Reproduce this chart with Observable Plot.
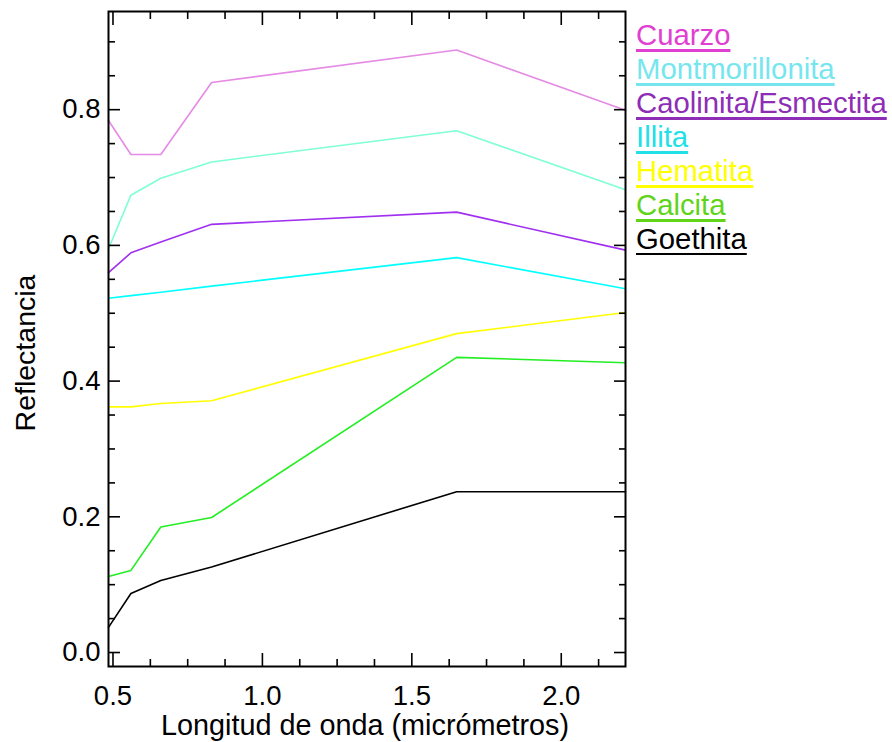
<!DOCTYPE html>
<html>
<head>
<meta charset="utf-8">
<script src="https://cdn.jsdelivr.net/npm/d3@7"></script>
<script src="https://cdn.jsdelivr.net/npm/@observablehq/plot@0.6"></script>
<style>
  html, body { margin: 0; padding: 0; background: #fff; }
  #wrap { position: relative; width: 892px; height: 742px; font-family: "Liberation Sans", Arial, sans-serif; }
  #legend { position: absolute; left: 636px; top: 18px; font-size: 29.3px; line-height: 34px; white-space: nowrap; }
  #legend div { text-decoration: underline; text-decoration-thickness: 3px; text-underline-offset: 4px; text-decoration-skip-ink: none; }
</style>
</head>
<body>
<div id="wrap"><div id="chart"></div><div id="legend"></div></div>
<script>
// Wavelengths (micrometres) of the sampled bands
const bands = [0.485, 0.56, 0.66, 0.83, 1.65, 2.215];

// Reflectance values per mineral
const cuarzo          = [0.784, 0.734, 0.734, 0.840, 0.888, 0.799];
const montmorillonita = [0.595, 0.674, 0.699, 0.723, 0.769, 0.682];
const caolinita       = [0.560, 0.589, 0.605, 0.631, 0.649, 0.593];
const illita          = [0.522, 0.526, 0.531, 0.540, 0.582, 0.536];
const hematita        = [0.362, 0.362, 0.367, 0.371, 0.470, 0.501];
const calcita         = [0.112, 0.121, 0.185, 0.199, 0.435, 0.427];
const goethita        = [0.037, 0.087, 0.106, 0.126, 0.237, 0.237];

const names       = ["Cuarzo", "Montmorillonita", "Caolinita/Esmectita", "Illita", "Hematita", "Calcita", "Goethita"];
const seriesVals  = [cuarzo, montmorillonita, caolinita, illita, hematita, calcita, goethita];
const lineColors  = ["#e58ae5", "#7fffd4", "#a030f0", "#00ffff", "#ffff00", "#22ee22", "#000000"];
const legendColors= ["#e03fd2", "#76e6ee", "#8e2db5", "#22dfe8", "#ffff00", "#5fd419", "#000000"];

// Axis ticks
const xMajor = [0.5, 1.0, 1.5, 2.0];
const xMinor = [0.625, 0.75, 0.875, 1.125, 1.25, 1.375, 1.625, 1.75, 1.875, 2.125];
const yMajor = [0.0, 0.2, 0.4, 0.6, 0.8];
const yMinor = [0.05, 0.1, 0.15, 0.25, 0.3, 0.35, 0.45, 0.5, 0.55, 0.65, 0.7, 0.75, 0.85, 0.9];

const xLabel = "Longitud de onda (micrómetros)";
const yLabel = "Reflectancia";

const rows = [];
names.forEach((n, k) => bands.forEach((b, i) => rows.push({mineral: n, wl: b, r: seriesVals[k][i]})));

const tickStroke = {stroke: "black", strokeWidth: 1.6};

const chart = Plot.plot({
  width: 892,
  height: 742,
  marginLeft: 108,
  marginRight: 267,
  marginTop: 11,
  marginBottom: 76,
  style: {fontFamily: "'Liberation Sans', Arial, sans-serif", fontSize: "27px", background: "white", color: "black"},
  x: {domain: [0.485, 2.215], axis: null},
  y: {domain: [-0.0206, 0.9447], axis: null},
  color: {domain: names, range: lineColors},
  marks: [
    Plot.line(rows, {x: "wl", y: "r", z: "mineral", stroke: "mineral", strokeWidth: 1.6}),
    // y axis (left, with labels) and mirrored right ticks
    Plot.axisY({anchor: "left", ticks: yMajor, tickSize: -12, tickPadding: 20, tickFormat: ".1f", label: null, fontSize: 27.5, ...tickStroke}),
    Plot.axisY({anchor: "left", ticks: yMinor, tickSize: -7, fill: "none", label: null, ...tickStroke}),
    Plot.axisY({anchor: "right", ticks: yMajor, tickSize: -12, fill: "none", label: null, ...tickStroke}),
    Plot.axisY({anchor: "right", ticks: yMinor, tickSize: -7, fill: "none", label: null, ...tickStroke}),
    // x axis (bottom, with labels) and mirrored top ticks
    Plot.axisX({anchor: "bottom", ticks: xMajor, tickSize: -13, tickPadding: 32, tickFormat: ".1f", label: null, fontSize: 27.5, ...tickStroke}),
    Plot.axisX({anchor: "bottom", ticks: xMinor, tickSize: -7, fill: "none", label: null, ...tickStroke}),
    Plot.axisX({anchor: "top", ticks: xMajor, tickSize: -13, fill: "none", label: null, ...tickStroke}),
    Plot.axisX({anchor: "top", ticks: xMinor, tickSize: -7, fill: "none", label: null, ...tickStroke}),
    Plot.frame({stroke: "black", strokeWidth: 2}),
    Plot.text([xLabel], {text: d => d, frameAnchor: "bottom", lineAnchor: "top", dy: 48, dx: -2, fontSize: 28.8, fill: "black"}),
    Plot.text([yLabel], {text: d => d, frameAnchor: "left", rotate: -90, lineAnchor: "middle", textAnchor: "middle", dx: -83, dy: 14, fontSize: 28.5, fill: "black"})
  ]
});
document.getElementById("chart").appendChild(chart);

const legend = document.getElementById("legend");
names.forEach((n, k) => {
  const d = document.createElement("div");
  d.textContent = n;
  d.style.color = legendColors[k];
  if (n === "Goethita") d.style.textDecorationThickness = "1.5px";
  legend.appendChild(d);
});
</script>
</body>
</html>
